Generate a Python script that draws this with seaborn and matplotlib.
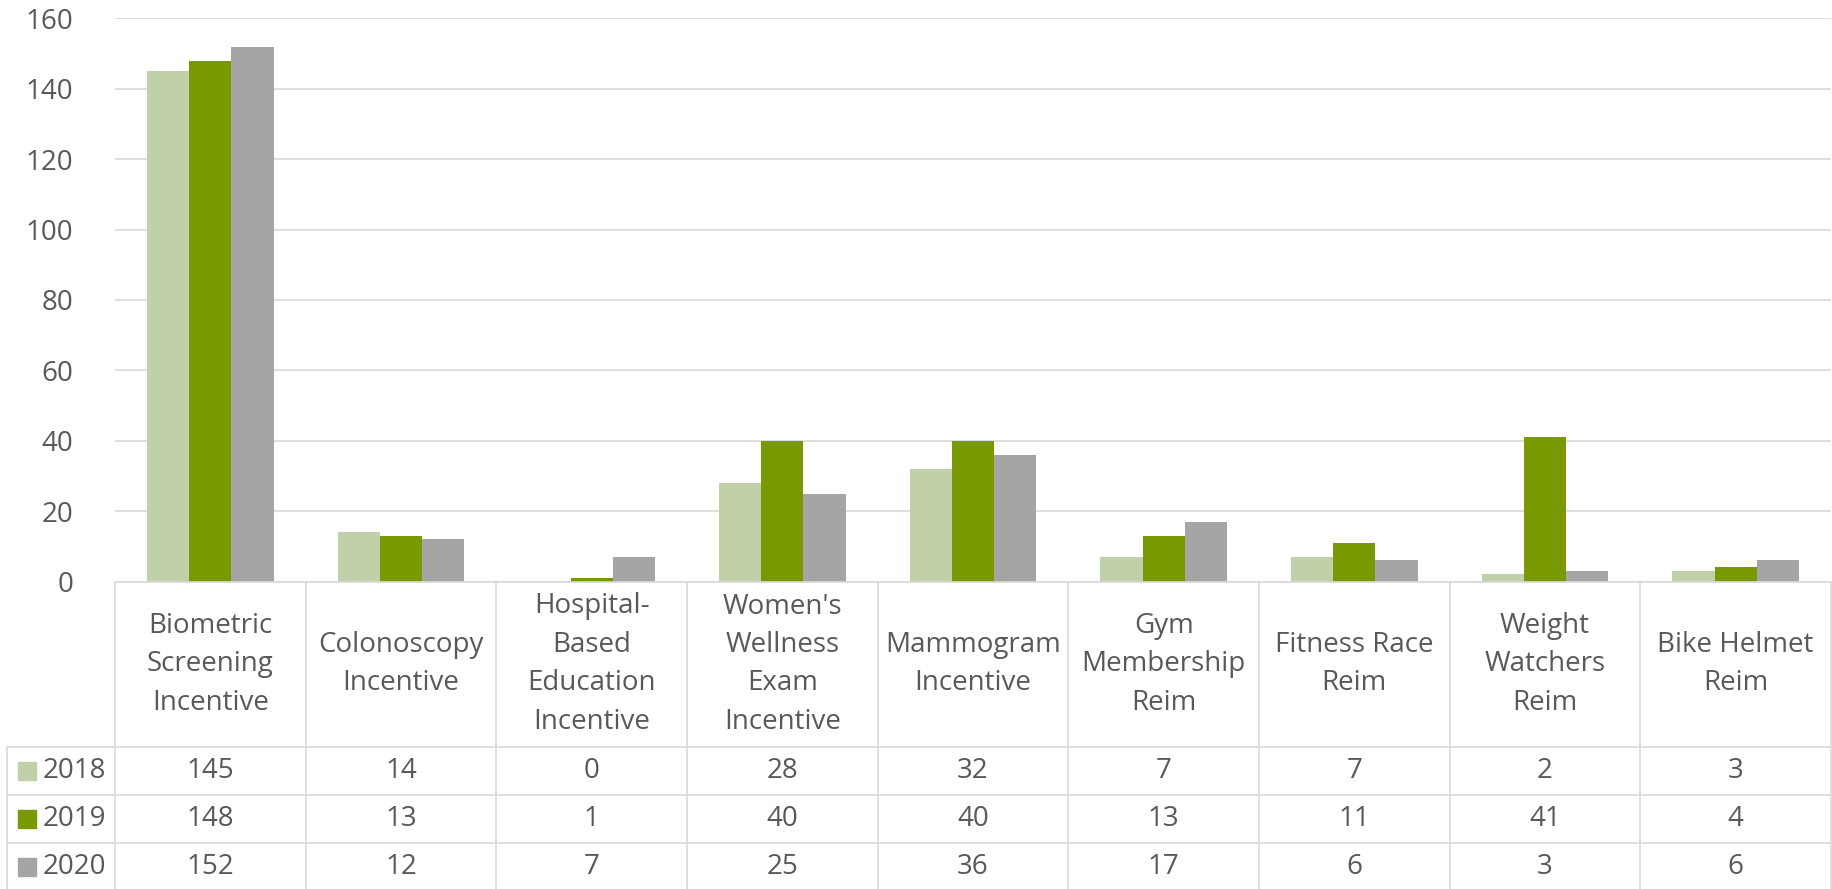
import matplotlib
matplotlib.use("Agg")
import matplotlib.pyplot as plt
from matplotlib.patches import Rectangle
import seaborn as sns
import pandas as pd

categories = [
    "Biometric\nScreening\nIncentive",
    "Colonoscopy\nIncentive",
    "Hospital-\nBased\nEducation\nIncentive",
    "Women's\nWellness\nExam\nIncentive",
    "Mammogram\nIncentive",
    "Gym\nMembership\nReim",
    "Fitness Race\nReim",
    "Weight\nWatchers\nReim",
    "Bike Helmet\nReim",
]
years = ["2018", "2019", "2020"]
values_2018 = [145, 14, 0, 28, 32, 7, 7, 2, 3]
values_2019 = [148, 13, 1, 40, 40, 13, 11, 41, 4]
values_2020 = [152, 12, 7, 25, 36, 17, 6, 3, 6]
colors = ["#C0D0A8", "#789A00", "#A5A5A5"]
yticks = [0, 20, 40, 60, 80, 100, 120, 140, 160]

series = {"2018": values_2018, "2019": values_2019, "2020": values_2020}
df = pd.DataFrame(
    [(c, y, v) for y in years for c, v in zip(categories, series[y])],
    columns=["category", "year", "value"],
)

sns.set_theme(style="white")
plt.rcParams["font.family"] = ["Open Sans", "DejaVu Sans"]
TXT = "#595959"
GRID = "#D9D9D9"
FS = 20

W, H = 1833, 889
fig = plt.figure(figsize=(W / 100, H / 100), dpi=100)

left_px, right_px, top_px, zero_px = 115, 1831, 18.5, 581.5
ax = fig.add_axes([left_px / W, (H - zero_px) / H, (right_px - left_px) / W, (zero_px - top_px) / H])
sns.barplot(data=df, x="category", y="value", hue="year", order=categories,
            hue_order=years, palette=colors, width=0.664, ax=ax,
            legend=False, errorbar=None, saturation=1, linewidth=0)
ax.set_xlim(-0.5, 8.5)
ax.set_ylim(0, 160)
ax.set_yticks(yticks)
ax.set_yticklabels([str(t) for t in yticks], fontsize=FS, color=TXT)
ax.tick_params(axis="y", length=0, pad=30)
ax.set_xticks([])
ax.set_xlabel("")
ax.set_ylabel("")
ax.yaxis.grid(True, color=GRID, linewidth=1.2)
ax.set_axisbelow(True)
for s in ax.spines.values():
    s.set_visible(False)

# data table below the plot
unit = (right_px - left_px) / 9.0
tleft_px = 7
tab = fig.add_axes([tleft_px / W, 0, (right_px - tleft_px) / W, (H - zero_px) / H])
xl = -0.5 - (left_px - tleft_px) / unit
row_px = 48
header_px = 747 - zero_px
total_rows = (H - zero_px) / row_px
ytop = 3 + header_px / row_px
tab.set_xlim(xl, 8.5)
tab.set_ylim(ytop - total_rows, ytop)
tab.axis("off")

lw = 1.2
# horizontal lines
tab.plot([-0.5, 8.5], [ytop, ytop], color=GRID, lw=lw, clip_on=False)
for yy in [3, 2, 1]:
    tab.plot([xl, 8.5], [yy, yy], color=GRID, lw=lw, clip_on=False)
# vertical lines
for i in range(10):
    xx = -0.5 + i
    tab.plot([xx, xx], [ytop - total_rows - 0.2, ytop], color=GRID, lw=lw, clip_on=False)
tab.plot([xl, xl], [ytop - total_rows - 0.2, 3], color=GRID, lw=lw, clip_on=False)

# header labels
for i, c in enumerate(categories):
    tab.text(i, (3 + ytop) / 2, c, ha="center", va="center", fontsize=FS,
             color=TXT, linespacing=1.5)

# rows
for r, (y, col) in enumerate(zip(years, colors)):
    yc = 2.5 - r
    vals = series[y]
    for i, v in enumerate(vals):
        tab.text(i, yc, str(v), ha="center", va="center", fontsize=FS, color=TXT)
    sq = 18 / unit
    sx = xl + (18 - tleft_px) / unit
    tab.add_patch(Rectangle((sx, yc - 9 / row_px), sq, 18 / row_px, color=col,
                            clip_on=False))
    tab.text(xl + (43 - tleft_px) / unit, yc, y, ha="left", va="center",
             fontsize=FS, color=TXT)

fig.savefig("out.png", dpi=100)
